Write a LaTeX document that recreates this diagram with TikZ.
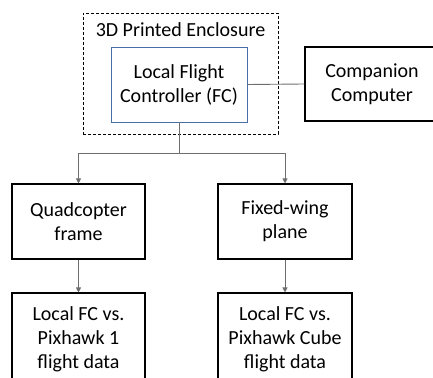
\documentclass[tikz,border=0pt]{standalone}
\usepackage{fontspec}
\setmainfont{Carlito}
\usetikzlibrary{arrows.meta}
\definecolor{fcblue}{HTML}{4A6FA8}
\definecolor{conn}{HTML}{6E6E6E}
\begin{document}
\begin{tikzpicture}[x=1pt,y=-1pt,
  box/.style={draw=black,line width=1.1pt,align=center,inner sep=0pt,
    font=\fontsize{20}{24}\selectfont},
  link/.style={draw=conn,line width=0.9pt},
  arr/.style={link,-{Triangle[width=5pt,length=5pt]}}]
\useasboundingbox (0,0) rectangle (433,377);
\clip (0,0) rectangle (433,377);
\node[draw=black,dash pattern=on 3pt off 2pt,line width=0.9pt,minimum width=195pt,minimum height=121pt,inner sep=0pt] (encl) at (180.5,73.5) {};
\node[font=\fontsize{20}{24}\selectfont,inner sep=0pt] (encltxt) at (180.5,30) {3D Printed Enclosure};
\node[box,draw=fcblue,line width=0.9pt,minimum width=136pt,minimum height=75pt] (fc) at (179,84.5) {Local Flight\\Controller (FC)};
\node[box,minimum width=134pt,minimum height=74pt] (comp) at (372,84) {Companion\\Computer};
\node[box,minimum width=133pt,minimum height=75pt] (quad) at (78.5,221.5) {Quadcopter\\frame};
\node[box,minimum width=134pt,minimum height=75pt] (fixed) at (285,221.5) {Fixed-wing\\plane};
\node[box,minimum width=133pt,minimum height=92pt] (lq) at (78.5,339) {Local FC vs.\\Pixhawk 1\\flight data};
\node[box,minimum width=134pt,minimum height=92pt] (lf) at (285,339) {Local FC vs.\\Pixhawk Cube\\flight data};
\coordinate (j) at (179,153.5);
\draw[link] (fc.east) -- (comp.west);
\draw[link] (fc.south) -- (j);
\draw[arr] (j) -| (quad.north);
\draw[arr] (j) -| (fixed.north);
\draw[arr] (quad.south) -- (lq.north);
\draw[arr] (fixed.south) -- (lf.north);
\end{tikzpicture}
\end{document}
